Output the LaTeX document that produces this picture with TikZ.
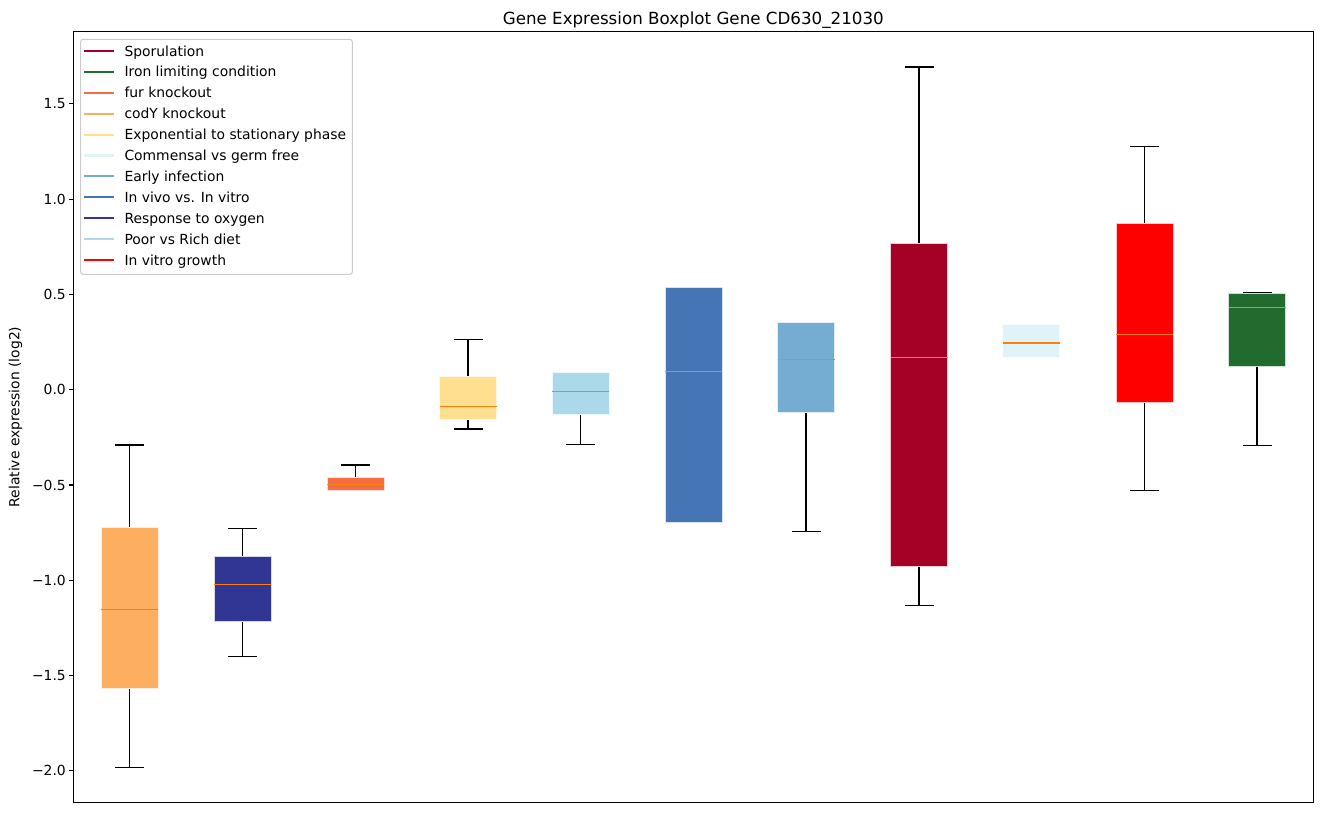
\documentclass[tikz,border=0pt]{standalone}
\usepackage{fontspec}
\setmainfont{DejaVu Sans}
\definecolor{cSpor}{HTML}{A50026}
\definecolor{cIron}{HTML}{226B2E}
\definecolor{cFur}{HTML}{F46D43}
\definecolor{cCody}{HTML}{FDAE61}
\definecolor{cExp}{HTML}{FEE090}
\definecolor{cComm}{HTML}{E0F3F8}
\definecolor{cEarly}{HTML}{74ADD1}
\definecolor{cVivo}{HTML}{4575B4}
\definecolor{cOxy}{HTML}{313695}
\definecolor{cPoor}{HTML}{ABD9E9}
\definecolor{cVitro}{HTML}{FF0000}
\definecolor{cMed}{HTML}{FF7F0E}
\tikzset{
  whisk/.style={draw=black, line width=1.25pt},
  boxfill/.style={fill=#1, draw=white!80!#1, line width=0.7pt},
  medline/.style={draw=cMed, line width=1.4pt},
  frameline/.style={draw=black, line width=1.1pt},
  ticklbl/.style={anchor=base east, font=\fontsize{13.9}{16}\selectfont, inner sep=0pt},
  legtxt/.style={anchor=base west, font=\fontsize{13.9}{16}\selectfont, inner sep=0pt},
  legline/.style={line width=2.1pt, draw=#1},
}
\newcommand{\bxp}[7]{%
  \draw[whisk] (#1,#2) -- (#1,#3) (#1,#5) -- (#1,#6);
  \draw[whisk] (#1-14.5,#2) -- (#1+14.5,#2) (#1-14.5,#6) -- (#1+14.5,#6);
  \path[boxfill=#7] (#1-28.5,#3) rectangle (#1+28.5,#5);
  \draw[medline] (#1-28.5,#4) -- (#1+28.5,#4);
}
\begin{document}
\begin{tikzpicture}[x=1pt,y=-1pt]
\useasboundingbox[fill=white] (0,0) rectangle (1322,812);
% boxes
\bxp{129.5}{445}{527}{609.3}{688.3}{767.3}{cCody}
\bxp{242.5}{528.3}{556}{584.3}{621}{656.3}{cOxy}
\bxp{355.5}{465}{477}{484.3}{490}{490}{cFur}
\bxp{468}{339.3}{376}{406.3}{419.7}{429}{cExp}
\bxp{580.7}{372.7}{372.7}{391.3}{414}{444.3}{cPoor}
\bxp{693.7}{287.3}{287.3}{371.3}{522.3}{522.3}{cVivo}
\bxp{806}{322.7}{322.7}{359.3}{412}{531.3}{cEarly}
\bxp{919}{67}{243.7}{357.3}{566}{605.3}{cSpor}
\bxp{1031.3}{324.7}{324.7}{343}{357}{357}{cComm}
\bxp{1144.5}{146.3}{223.7}{334.3}{402}{490.3}{cVitro}
\bxp{1257}{293}{293}{307.3}{366.7}{445.3}{cIron}
% frame
\draw[frameline] (73.3,31.5) rectangle (1313.3,802.3);
% ticks
\foreach \v/\lab in {1.5/1.5,1.0/1.0,0.5/0.5,0.0/0.0,-0.5/{−0.5},-1.0/{−1.0},-1.5/{−1.5},-2.0/{−2.0}}{
  \draw[line width=1.1pt] (73.3,389.7-190.6*\v) -- (68.5,389.7-190.6*\v);
  \node[ticklbl] (t\v) at (66,389.7-190.6*\v+5) {\lab};
}
% labels
\node[font=\fontsize{16.7}{20}\selectfont, anchor=base] (title) at (693.3,24) {Gene Expression Boxplot Gene CD630\_21030};
\node[font=\fontsize{13.9}{16}\selectfont, rotate=90] (ylab) at (15.5,417) {Relative expression (log2)};
% legend
\draw[rounded corners=2.5pt, draw=black!20, fill=white, fill opacity=0.8, line width=1pt] (80.7,39.3) rectangle (352.3,274.3);
\foreach \i/\c/\t in {0/cSpor/Sporulation,1/cIron/Iron limiting condition,2/cFur/fur knockout,3/cCody/codY knockout,4/cExp/Exponential to stationary phase,5/cComm/Commensal vs germ free,6/cEarly/Early infection,7/cVivo/In vivo vs. In vitro,8/cOxy/Response to oxygen,9/cPoor/Poor vs Rich diet,10/cVitro/In vitro growth}{
  \draw[legline=\c] (84,51+20.9*\i) -- (114,51+20.9*\i);
  \node[legtxt] (l\i) at (124.3,51+20.9*\i+5) {\t};
}
\end{tikzpicture}
\end{document}
